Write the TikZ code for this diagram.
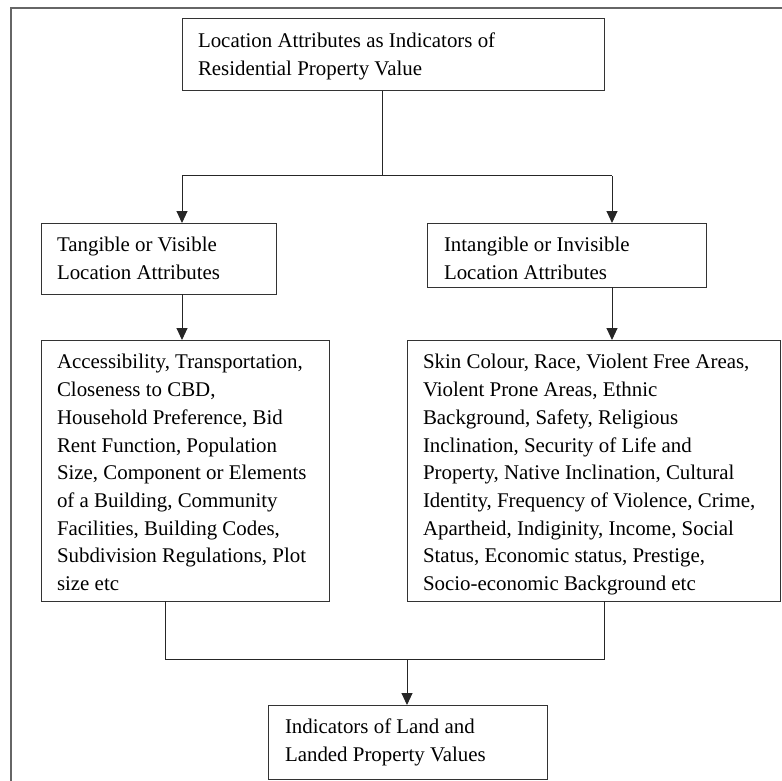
\documentclass[tikz,border=0pt]{standalone}
\usepackage{fontspec}
\setmainfont{Liberation Serif}
\usetikzlibrary{arrows.meta}
\newcommand\boxtxt[3]{\parbox[t][#2][t]{#1}{\strut#3}}
\begin{document}
\begin{tikzpicture}[x=1pt,y=-1pt,
  bx/.style={draw=black!80, line width=1pt, anchor=north west, outer sep=0pt,
    inner ysep=9.6pt, font=\fontsize{20.9}{27.7}\selectfont},
  conn/.style={draw=black!85, line width=1pt},
  arr/.style={conn, -{Triangle[length=12pt,width=11pt]}},
  frame/.style={draw=black!60, line width=1.5pt}]
\useasboundingbox (0,0) rectangle (782,781);
\draw[frame] (11,781) -- (11,8) -- (782,8);

\node[bx, inner xsep=16pt] (top) at (182,19)
  {\boxtxt{390pt}{52.8pt}{Location Attributes as Indicators of\\Residential Property Value}};
\node[bx, inner xsep=16pt] (tang) at (41,223)
  {\boxtxt{203pt}{51.8pt}{Tangible or Visible\\Location Attributes}};
\node[bx, inner xsep=17pt] (intang) at (427,223)
  {\boxtxt{245pt}{44.8pt}{Intangible or Invisible\\Location Attributes}};
\node[bx, inner xsep=16pt] (bigL) at (41,340)
  {\boxtxt{256pt}{241.8pt}{Accessibility, Transportation,\\Closeness to CBD,\\Household Preference, Bid\\Rent Function, Population\\Size, Component or Elements\\of a Building, Community\\Facilities, Building Codes,\\Subdivision Regulations, Plot\\size etc}};
\node[bx, inner xsep=16pt] (bigR) at (407,340)
  {\boxtxt{341pt}{241.8pt}{Skin Colour, Race, Violent Free Areas,\\Violent Prone Areas, Ethnic\\Background, Safety, Religious\\Inclination, Security of Life and\\Property, Native Inclination, Cultural\\Identity, Frequency of Violence, Crime,\\Apartheid, Indiginity, Income, Social\\Status, Economic status, Prestige,\\Socio-economic Background etc}};
\node[bx, inner xsep=17pt] (bot) at (268,705)
  {\boxtxt{245pt}{54.8pt}{Indicators of Land and\\Landed Property Values}};

\coordinate (s1) at (382,176);
\coordinate (sl) at (182,176);
\coordinate (sr) at (612,176);
\draw[conn] (top.south -| s1) -- (s1);
\draw[conn] (sl) -- (sr);
\draw[arr] (sl) -- (sl |- tang.north);
\draw[arr] (sr) -- (sr |- intang.north);
\draw[arr] (tang.south -| sl) -- (sl |- bigL.north);
\draw[arr] (intang.south -| sr) -- (sr |- bigR.north);

\coordinate (ml) at (165,659);
\coordinate (mr) at (604,659);
\coordinate (mm) at (407,659);
\draw[conn] (bigL.south -| ml) -- (ml) -- (mr) -- (bigR.south -| mr);
\draw[arr] (mm) -- (mm |- bot.north);
\end{tikzpicture}
\end{document}
